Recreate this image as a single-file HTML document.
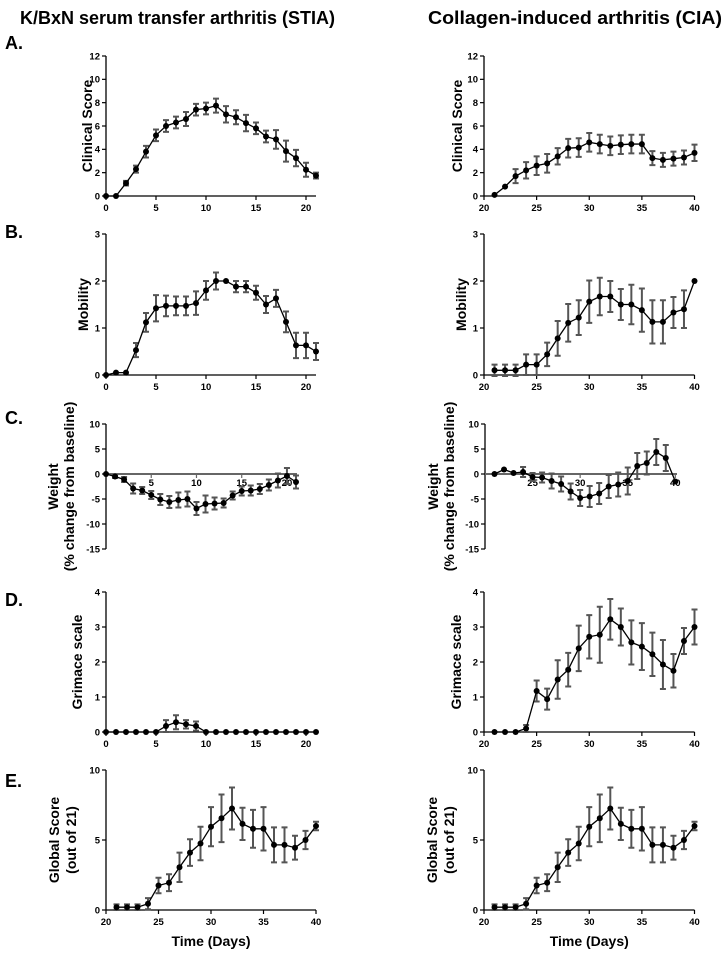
<!DOCTYPE html>
<html><head><meta charset="utf-8"><style>
body{margin:0;background:#fff;}
svg{display:block;}
.tk{font-family:"Liberation Sans",sans-serif;font-weight:bold;font-size:9.5px;fill:#000;}
.yt{font-family:"Liberation Sans",sans-serif;font-weight:bold;font-size:14px;fill:#000;}
.hd{font-family:"Liberation Sans",sans-serif;font-weight:bold;font-size:18px;fill:#000;}
.pl{font-family:"Liberation Sans",sans-serif;font-weight:bold;font-size:18px;fill:#000;}
</style></head><body>
<svg id="fig" width="724" height="956" viewBox="0 0 724 956" xmlns="http://www.w3.org/2000/svg">
<text class="hd" x="20" y="24" textLength="315" lengthAdjust="spacingAndGlyphs">K/BxN serum transfer arthritis (STIA)</text>
<text class="hd" x="428" y="24" textLength="294" lengthAdjust="spacingAndGlyphs">Collagen-induced arthritis (CIA)</text>
<text class="pl" x="5" y="49">A.</text>
<text class="pl" x="5" y="238">B.</text>
<text class="pl" x="5" y="424">C.</text>
<text class="pl" x="5" y="606">D.</text>
<text class="pl" x="5" y="787">E.</text>
</svg>
<script>
// ---- data ----
const daysStia = [0,1,2,3,4,5,6,7,8,9,10,11,12,13,14,15,16,17,18,19,20,21];
const daysCia = [21,22,23,24,25,26,27,28,29,30,31,32,33,34,35,36,37,38,39,40];
const clinStia = [0,0,1.1,2.3,3.8,5.2,6.0,6.3,6.6,7.4,7.5,7.75,7.0,6.75,6.25,5.8,5.1,4.85,3.85,3.25,2.25,1.75];
const clinStiaErr = [0,0,0.2,0.3,0.5,0.5,0.5,0.5,0.6,0.5,0.5,0.6,0.7,0.6,0.7,0.5,0.5,0.8,0.9,0.7,0.6,0.25];
const clinCia = [0.1,0.8,1.7,2.2,2.6,2.8,3.4,4.1,4.15,4.6,4.45,4.3,4.4,4.45,4.45,3.25,3.1,3.2,3.3,3.7];
const clinCiaErr = [0,0,0.6,0.7,0.8,0.8,0.7,0.8,0.8,0.8,0.8,0.8,0.8,0.8,0.8,0.6,0.6,0.6,0.6,0.7];
const mobStia = [0,0.05,0.05,0.53,1.12,1.42,1.47,1.47,1.47,1.53,1.8,2.0,2.0,1.88,1.88,1.75,1.5,1.63,1.13,0.63,0.63,0.5];
const mobStiaErr = [0,0,0,0.15,0.2,0.28,0.22,0.2,0.2,0.25,0.2,0.18,0,0.12,0.12,0.15,0.18,0.18,0.22,0.27,0.27,0.18];
const mobCia = [0.1,0.1,0.1,0.22,0.22,0.44,0.78,1.11,1.22,1.56,1.67,1.67,1.5,1.5,1.38,1.13,1.13,1.33,1.4,2.0];
const mobCiaErr = [0.12,0.12,0.12,0.22,0.22,0.25,0.37,0.4,0.37,0.45,0.4,0.33,0.33,0.42,0.46,0.46,0.46,0.33,0.4,0];
const wtStia = [0,-0.5,-1.1,-2.9,-3.3,-4.2,-5.1,-5.6,-5.2,-5.0,-6.9,-6.0,-5.9,-5.8,-4.3,-3.4,-3.3,-3.0,-2.2,-1.3,-0.4,-1.6];
const wtStiaErr = [0,0.3,0.5,1.0,0.7,0.8,1.1,1.2,1.5,1.5,1.3,1.7,1.2,0.9,0.8,0.9,1.0,1.0,1.1,1.4,1.6,1.3];
const wtCia = [0,0.9,0.2,0.4,-0.6,-0.7,-1.4,-2.0,-3.5,-4.8,-4.5,-3.9,-2.5,-2.1,-1.4,1.6,2.2,4.4,3.2,-1.5];
const wtCiaErr = [0,0,0,1.0,0.8,1.0,1.5,1.5,1.6,1.6,2.1,2.1,2.3,2.4,2.7,2.6,2.3,2.6,2.6,0];
const grStia = [0,0,0,0,0,0,0.17,0.28,0.22,0.17,0,0,0,0,0,0,0,0,0,0,0,0];
const grStiaErr = [0,0,0,0,0,0,0.17,0.2,0.12,0.13,0,0,0,0,0,0,0,0,0,0,0,0];
const grCia = [0,0,0,0.1,1.17,0.94,1.5,1.78,2.39,2.72,2.78,3.22,3.0,2.56,2.44,2.22,1.93,1.75,2.6,3.0];
const grCiaErr = [0,0,0,0.1,0.3,0.3,0.55,0.48,0.65,0.62,0.8,0.58,0.53,0.63,0.67,0.62,0.7,0.48,0.37,0.5];
const globCia = [0.2,0.2,0.2,0.45,1.75,1.95,3.05,4.1,4.75,5.95,6.55,7.25,6.15,5.8,5.8,4.65,4.65,4.45,5.0,6.0];
const globCiaErr = [0.2,0.2,0.2,0.4,0.55,0.6,1.05,0.95,1.2,1.4,1.7,1.5,1.15,1.35,1.55,1.25,1.25,0.85,0.65,0.3];
const xTicksStia = [0,5,10,15,20];
const xTicksCia = [20,25,30,35,40];
const xTicksCiaW = [25,30,35,40];
const yTicksClin = [0,2,4,6,8,10,12];
const yTicksMob = [0,1,2,3];
const yTicksWt = [10,5,0,-5,-10,-15];
const yTicksGr = [0,1,2,3,4];
const yTicksGlob = [0,5,10];

const NS = "http://www.w3.org/2000/svg";
const fig = document.getElementById('fig');
function mk(tag, attrs, parent){const e=document.createElementNS(NS,tag);for(const k in attrs)e.setAttribute(k,attrs[k]);(parent||fig).appendChild(e);return e;}

function panel(p){
  const g = mk('g',{});
  
  
  const sx = v => p.x0 + (v - p.xmin) / (p.xmax - p.xmin) * (p.x1 - p.x0);
  const sy = v => p.yb - (v - p.ymin) / (p.ymax - p.ymin) * (p.yb - p.yt);
  const zeroY = p.midAxis ? sy(0) : p.yb;
  // y axis
  const ya = mk('line',{x1:p.x0,y1:p.yt,x2:p.x0,y2:p.yb,stroke:'#000','stroke-width':1.3},g);
  
  
  p.yticks.forEach(t=>{
    const y=sy(t);
    mk('line',{x1:p.x0-4,y1:y,x2:p.x0,y2:y,stroke:'#000','stroke-width':1.2},g);
    const tx=mk('text',{x:p.x0-6,y:y+3.3,'text-anchor':'end',class:'tk'},g);
    tx.textContent=t;
    
    
  });
  // x axis
  const xa = mk('line',{x1:p.x0,y1:zeroY,x2:p.xend||p.x1,y2:zeroY,stroke:p.midAxis?'#666':'#000','stroke-width':p.midAxis?2:1.3},g);
  
  
  p.xticks.forEach(t=>{
    const x=sx(t);
    mk('line',{x1:x,y1:zeroY,x2:x,y2:zeroY+4,stroke:p.midAxis?'#666':'#000','stroke-width':1.2},g);
    const tx=mk('text',{x:x,y:zeroY+(p.midAxis?12:15),'text-anchor':'middle',class:'tk'},g);
    tx.textContent=t;
    
    
  });
  // y title
  p.ytitle.forEach((line,i)=>{
    const t=mk('text',{class:'yt','text-anchor':'middle',transform:`translate(${p.tx[i]},${(p.yt+p.yb)/2}) rotate(-90)`},g);
    t.textContent=line;
    
    
  });
  // error bars
  p.days.forEach((d,i)=>{
    const e=p.err[i]; if(!e) return;
    const x=sx(d), yh=sy(p.vals[i]+e), yl=sy(p.vals[i]-e);
    const eb=mk('path',{d:`M${x},${yh}V${yl}M${x-3},${yh}H${x+3}M${x-3},${yl}H${x+3}`,stroke:'#555','stroke-width':2,fill:'none'},g);
    
    
  });
  // line
  const pts=p.days.map((d,i)=>sx(d)+','+sy(p.vals[i])).join(' ');
  const pl=mk('polyline',{points:pts,fill:'none',stroke:'#000','stroke-width':1.3},g);
  
  
  p.days.forEach((d,i)=>{
    const c=mk('circle',{cx:sx(d),cy:sy(p.vals[i]),r:3,fill:'#000'},g);
    
    
  });
  if(p.xlabel){
    const xl=mk('text',{x:(p.x0+p.x1)/2,y:946,'text-anchor':'middle',class:'yt'},g);
    xl.textContent=p.xlabel;
    
    
  }
}
const L={x0:106,x1:316,xmin:0,xmax:21,xticks:xTicksStia,days:daysStia};
const R={x0:484,x1:694.5,xmin:20,xmax:40,xticks:xTicksCia,days:daysCia};
panel(Object.assign({},L,{name:'stia-clinical-score',yt:56,yb:196,ymin:0,ymax:12,yticks:yTicksClin,vals:clinStia,err:clinStiaErr,ytitle:['Clinical Score'],tx:[92]}));
panel(Object.assign({},R,{name:'cia-clinical-score',yt:56,yb:196,ymin:0,ymax:12,yticks:yTicksClin,vals:clinCia,err:clinCiaErr,ytitle:['Clinical Score'],tx:[462]}));
panel(Object.assign({},L,{name:'stia-mobility',yt:234,yb:375,ymin:0,ymax:3,yticks:yTicksMob,vals:mobStia,err:mobStiaErr,ytitle:['Mobility'],tx:[88]}));
panel(Object.assign({},R,{name:'cia-mobility',yt:234,yb:375,ymin:0,ymax:3,yticks:yTicksMob,vals:mobCia,err:mobCiaErr,ytitle:['Mobility'],tx:[466]}));
panel({name:'stia-weight',x0:106,x1:296,xend:297,xmin:0,xmax:21,xticks:[5,10,15,20],days:daysStia,midAxis:true,yt:424,yb:549,ymin:-15,ymax:10,yticks:yTicksWt,vals:wtStia,err:wtStiaErr,ytitle:['Weight','(% change from baseline)'],tx:[58,74]});
panel({name:'cia-weight',x0:485,x1:675.3,xend:677,xmin:20,xmax:40,xticks:xTicksCiaW,days:daysCia,midAxis:true,yt:424,yb:549,ymin:-15,ymax:10,yticks:yTicksWt,vals:wtCia,err:wtCiaErr,ytitle:['Weight','(% change from baseline)'],tx:[438,454]});
panel(Object.assign({},L,{name:'stia-grimace',yt:592,yb:732,ymin:0,ymax:4,yticks:yTicksGr,vals:grStia,err:grStiaErr,ytitle:['Grimace scale'],tx:[82]}));
panel(Object.assign({},R,{name:'cia-grimace',yt:592,yb:732,ymin:0,ymax:4,yticks:yTicksGr,vals:grCia,err:grCiaErr,ytitle:['Grimace scale'],tx:[461]}));
panel({name:'stia-global-score',x0:106,x1:316,xmin:20,xmax:40,xticks:xTicksCia,days:daysCia,yt:770,yb:910,ymin:0,ymax:10,yticks:yTicksGlob,vals:globCia,err:globCiaErr,ytitle:['Global Score','(out of 21)'],tx:[59,76],xlabel:'Time (Days)'});
panel(Object.assign({},R,{name:'cia-global-score',yt:770,yb:910,ymin:0,ymax:10,yticks:yTicksGlob,vals:globCia,err:globCiaErr,ytitle:['Global Score','(out of 21)'],tx:[437,454],xlabel:'Time (Days)'}));
</script>
</body></html>
